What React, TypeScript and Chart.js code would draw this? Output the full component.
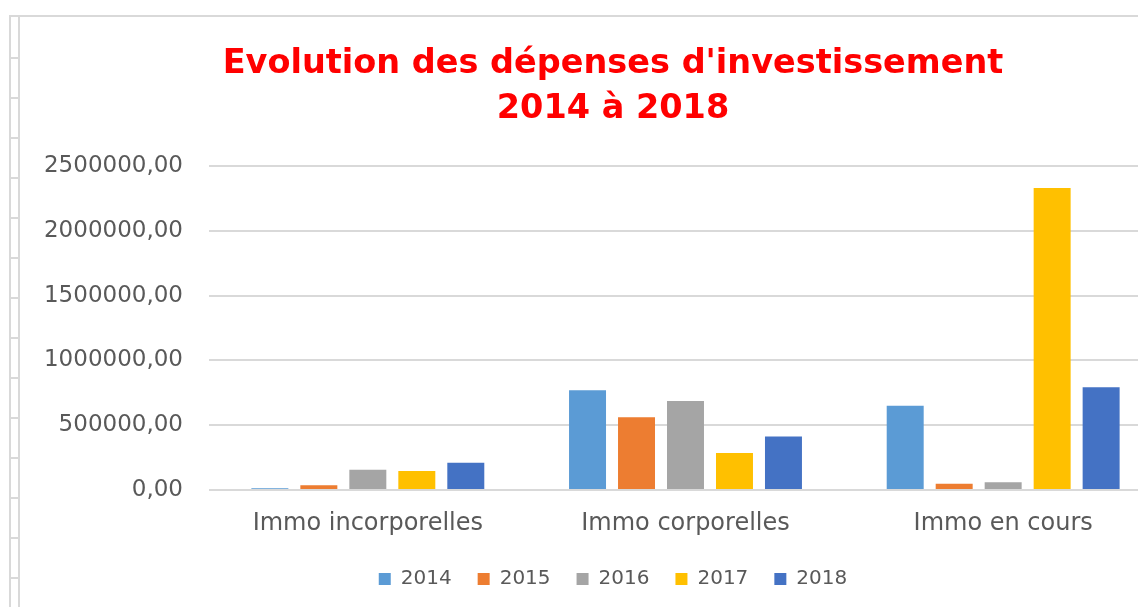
import React, { useEffect, useRef } from "react";
import { Chart, registerables } from "chart.js";

Chart.register(...registerables);

const categories = ["Immo incorporelles", "Immo corporelles", "Immo en cours"];
const seriesLabels = ["2014", "2015", "2016", "2017", "2018"];
const values2014 = [13000, 770000, 650000];
const values2015 = [36000, 562000, 48000];
const values2016 = [157000, 686000, 60000];
const values2017 = [147000, 286000, 2330000];
const values2018 = [211000, 413000, 792000];
const seriesValues = [values2014, values2015, values2016, values2017, values2018];
const seriesColors = ["#5B9BD5", "#ED7D31", "#A5A5A5", "#FFC000", "#4472C4"];
const titleLines = ["Evolution des dépenses d'investissement", "2014 à 2018"];
const yMin = 0;
const yMax = 2500000;
const yStep = 500000;

const LABEL_FONT = '"DejaVu Sans", sans-serif';
const FRAME = "#d9d9d9";

export default function App() {
  const ref = useRef<HTMLCanvasElement>(null);

  useEffect(() => {
    if (!ref.current) return;
    const chart = new Chart(ref.current, {
      type: "bar",
      data: {
        labels: categories,
        datasets: seriesLabels.map((label, i) => ({
          label,
          data: seriesValues[i],
          backgroundColor: seriesColors[i],
          borderWidth: 0,
          categoryPercentage: 0.771,
          barPercentage: 0.755,
          yAxisID: "y",
        })),
      },
      options: {
        animation: false,
        responsive: false,
        layout: { padding: { left: 24, right: 0, top: 0, bottom: 0 } },
        plugins: {
          title: {
            display: true,
            text: titleLines,
            color: "#FF0000",
            font: { family: '"DejaVu Sans", sans-serif', size: 33.5, weight: "bold", lineHeight: 1.343 },
            padding: { top: 25, bottom: 34 },
          },
          legend: {
            position: "bottom",
            labels: {
              boxWidth: 12,
              boxHeight: 12,
              padding: 26,
              color: "#595959",
              font: { family: LABEL_FONT, size: 20 },
            },
          },
          tooltip: { enabled: false },
        },
        scales: {
          x: {
            grid: { display: false },
            border: { display: false },
            ticks: {
              color: "#595959",
              font: { family: LABEL_FONT, size: 24, lineHeight: 1.5 },
              padding: 8,
              maxRotation: 0,
            },
            afterFit: (scale: any) => {
              scale.height = 53;
            },
          },
          y: {
            position: "left",
            min: yMin,
            max: yMax,
            grid: { color: FRAME, lineWidth: 2, drawTicks: false },
            border: { display: false },
            ticks: {
              stepSize: yStep,
              color: "#595959",
              font: { family: LABEL_FONT, size: 23 },
              padding: 26,
              callback: (v: any) => Number(v).toFixed(2).replace(".", ","),
            },
            afterFit: (scale: any) => {
              scale.width = 165;
            },
          },
          yRightSpace: {
            position: "right",
            display: true,
            min: yMin,
            max: yMax,
            grid: { display: false, drawOnChartArea: false },
            border: { display: false },
            ticks: { display: false },
            afterFit: (scale: any) => {
              scale.width = 20;
            },
          },
        },
      },
    });
    return () => chart.destroy();
  }, []);

  const rowLines: number[] = [];
  for (let y = 57; y < 607; y += 40) rowLines.push(y);

  return (
    <div
      style={{
        position: "fixed",
        left: 0,
        top: 0,
        width: 1138,
        height: 607,
        overflow: "hidden",
        background: "#ffffff",
      }}
    >
      <div style={{ position: "absolute", left: 9, top: 15, width: 1129, height: 2, background: FRAME }} />
      <div style={{ position: "absolute", left: 9, top: 15, width: 2, height: 592, background: FRAME }} />
      <div style={{ position: "absolute", left: 18, top: 15, width: 2, height: 592, background: FRAME }} />
      {rowLines.map((y) => (
        <div key={y} style={{ position: "absolute", left: 11, top: y, width: 7, height: 2, background: FRAME }} />
      ))}
      <canvas
        ref={ref}
        width={1162}
        height={582}
        style={{ position: "absolute", left: 20, top: 17, width: 1162, height: 582 }}
      />
    </div>
  );
}
